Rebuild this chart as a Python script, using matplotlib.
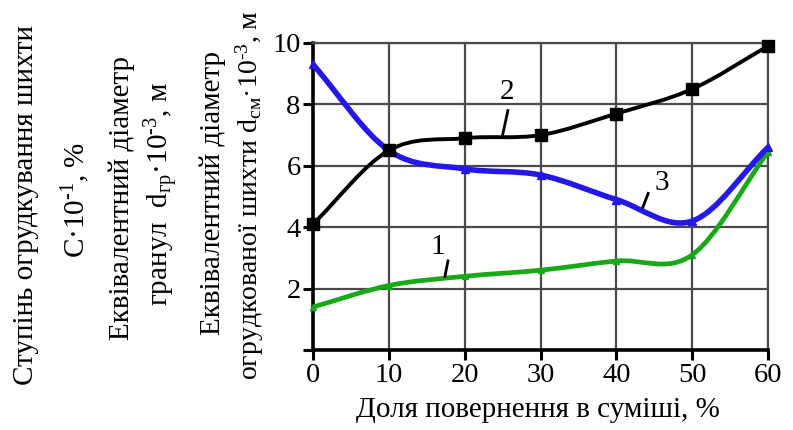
import numpy as np
import matplotlib
matplotlib.use("Agg")
import matplotlib.pyplot as plt
from matplotlib.path import Path
from matplotlib.patches import PathPatch

plt.rcParams['font.family'] = ['Liberation Serif', 'DejaVu Serif']
plt.rcParams['mathtext.fontset'] = 'custom'
plt.rcParams['mathtext.rm'] = 'Liberation Serif'
plt.rcParams['mathtext.it'] = 'Liberation Serif'
plt.rcParams['mathtext.default'] = 'regular'

# data
share = [0, 10, 20, 30, 40, 50, 60]
curve1 = [1.4, 2.1, 2.4, 2.6, 2.9, 3.1, 6.45]   # green
curve2 = [4.1, 6.5, 6.9, 7.0, 7.7, 8.5, 9.9]    # black
curve3 = [9.3, 6.5, 5.9, 5.7, 4.9, 4.2, 6.6]    # blue
x_ticks = [0, 10, 20, 30, 40, 50, 60]
y_ticks = [2, 4, 6, 8, 10]
xlabel = "Доля повернення в суміші, %"


def smooth_path(x, y):
    x = np.asarray(x, float)
    y = np.asarray(y, float)
    n = len(x)
    m = np.zeros(n)
    for i in range(n):
        if i == 0:
            m[i] = (y[1] - y[0]) / (x[1] - x[0])
        elif i == n - 1:
            m[i] = (y[-1] - y[-2]) / (x[-1] - x[-2])
        else:
            m[i] = (y[i + 1] - y[i - 1]) / (x[i + 1] - x[i - 1])
    verts = [(x[0], y[0])]
    codes = [Path.MOVETO]
    for i in range(n - 1):
        h = x[i + 1] - x[i]
        verts += [(x[i] + h / 3, y[i] + m[i] * h / 3),
                  (x[i + 1] - h / 3, y[i + 1] - m[i + 1] * h / 3),
                  (x[i + 1], y[i + 1])]
        codes += [Path.CURVE4] * 3
    return Path(verts, codes)


fig = plt.figure(figsize=(7.93, 4.30), dpi=100)
ax = fig.add_axes([313 / 793, 1 - 350 / 430, 455 / 793, 307 / 430])
ax.set_xlim(0, 60)
ax.set_ylim(0, 10)

ax.set_xticks(x_ticks)
ax.set_yticks([0] + y_ticks)
ax.set_yticklabels([""] + [str(v) for v in y_ticks])
ax.grid(True, color='#4a4a4a', linewidth=1.6)
ax.set_axisbelow(True)
for s in ['top', 'right']:
    ax.spines[s].set_color('#4a4a4a')
    ax.spines[s].set_linewidth(1.6)
for s in ['left', 'bottom']:
    ax.spines[s].set_color('black')
    ax.spines[s].set_linewidth(2.6)
ax.tick_params(axis='both', direction='out', length=7, width=2.2,
               labelsize=20.5, pad=2, colors='black')

for yv, col, lw in [(curve1, '#18a818', 3.4), (curve3, '#2418e8', 4.0), (curve2, 'black', 2.8)]:
    ax.add_patch(PathPatch(smooth_path(share, yv), facecolor='none',
                           edgecolor=col, linewidth=lw, zorder=3,
                           capstyle='round', joinstyle='round'))

ax.plot(share, curve1, linestyle='none', marker='^', markersize=5,
        color='#18a818', zorder=4, clip_on=False)
ax.plot(share, curve3, linestyle='none', marker='^', markersize=6,
        color='#2418e8', zorder=4, clip_on=False)
ax.plot(share, curve2, linestyle='none', marker='s', markersize=9,
        color='black', zorder=5, clip_on=False)

# curve labels with leader lines
ax.text(25.6, 8.4, "2", fontsize=21, ha='center', va='center', zorder=6)
ax.plot([25.7, 25.0], [7.8, 7.0], color='black', lw=2, zorder=6)
ax.text(46.0, 5.45, "3", fontsize=21, ha='center', va='center', zorder=6)
ax.plot([44.2, 43.5], [5.1, 4.65], color='black', lw=2, zorder=6)
ax.text(16.5, 3.35, "1", fontsize=21, ha='center', va='center', zorder=6)
ax.plot([17.8, 17.4], [2.9, 2.4], color='black', lw=2, zorder=6)

fig.text(538 / 793, 1 - 410 / 430, xlabel, fontsize=21, ha='center', va='center')

# y-axis label blocks
def ytext(xp, yp, s, fs=21):
    fig.text(xp / 793, 1 - yp / 430, s, fontsize=fs, rotation=90,
             ha='center', va='center')

ytext(26, 205, "Ступінь огрудкування шихти")
ytext(76, 200, "С·10$^{\\text{-}1}$, %")
ytext(122, 198, "Еквівалентний діаметр")
ytext(162, 194, "гранул  d$_{гр}$·10$^{\\text{-}3}$, м")
ytext(213, 193, "Еквівалентний діаметр")
ytext(250, 195, "огрудкованої шихти d$_{см}$·10$^{\\text{-}3}$, м", fs=20)

fig.savefig("out.png", dpi=100)
